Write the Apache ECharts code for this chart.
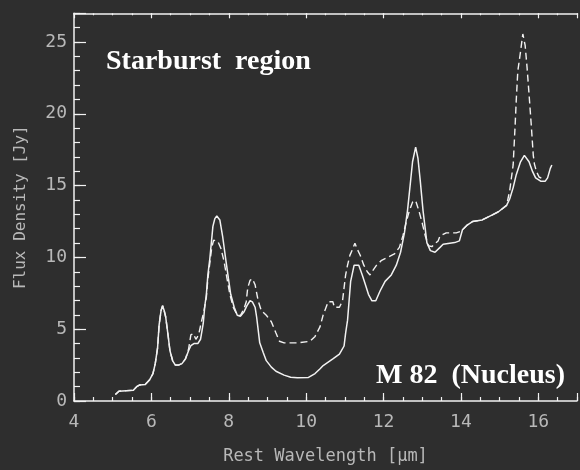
<!DOCTYPE html>
<html>
<head>
<meta charset="utf-8">
<script src="https://cdn.jsdelivr.net/npm/echarts@6/dist/echarts.min.js"></script>
<style>
  html, body { margin: 0; padding: 0; background: #2e2e2e; }
  #chart { width: 580px; height: 470px; }
</style>
</head>
<body>
<div id="chart"></div>
<script>
// Mid-infrared spectrum of M 82: solid and dashed traces
const solidWave = [5.07, 5.16, 5.35, 5.53, 5.62, 5.7, 5.84, 5.95, 6.04, 6.1, 6.16, 6.2, 6.25, 6.29, 6.33, 6.37, 6.43, 6.48, 6.55, 6.62, 6.7, 6.79, 6.88, 6.96, 7.02, 7.1, 7.2, 7.27, 7.34, 7.38, 7.42, 7.46, 7.51, 7.55, 7.59, 7.64, 7.69, 7.73, 7.77, 7.84, 7.92, 7.99, 8.05, 8.14, 8.22, 8.3, 8.39, 8.47, 8.55, 8.61, 8.68, 8.72, 8.76, 8.8, 8.89, 8.97, 9.1, 9.22, 9.43, 9.6, 9.77, 10.06, 10.23, 10.36, 10.44, 10.69, 10.86, 10.98, 11.02, 11.07, 11.11, 11.15, 11.24, 11.36, 11.45, 11.53, 11.61, 11.7, 11.8, 11.91, 12.04, 12.2, 12.33, 12.44, 12.54, 12.62, 12.69, 12.75, 12.83, 12.89, 12.95, 13.02, 13.08, 13.12, 13.21, 13.33, 13.46, 13.54, 13.84, 13.96, 14.04, 14.17, 14.3, 14.55, 14.8, 14.97, 15.18, 15.26, 15.35, 15.43, 15.54, 15.64, 15.76, 15.85, 15.93, 16.06, 16.18, 16.24, 16.31, 16.35];
const solidFlux = [0.45, 0.68, 0.72, 0.74, 1.0, 1.12, 1.15, 1.46, 1.9, 2.6, 3.7, 5.3, 6.3, 6.64, 6.3, 5.85, 4.6, 3.5, 2.8, 2.5, 2.5, 2.6, 2.93, 3.5, 3.85, 4.0, 4.0, 4.3, 5.4, 6.6, 7.4, 8.78, 9.9, 11.03, 12.16, 12.7, 12.88, 12.75, 12.6, 11.49, 9.9, 8.55, 7.43, 6.53, 5.97, 5.9, 6.19, 6.64, 6.98, 6.9, 6.53, 5.85, 4.95, 4.05, 3.38, 2.81, 2.36, 2.07, 1.8, 1.66, 1.62, 1.64, 1.91, 2.25, 2.47, 2.93, 3.26, 3.83, 4.73, 5.63, 6.98, 8.33, 9.46, 9.46, 8.78, 8.11, 7.43, 6.98, 6.98, 7.66, 8.33, 8.78, 9.46, 10.36, 11.71, 13.28, 15.09, 16.66, 17.68, 16.89, 15.31, 13.28, 11.93, 11.03, 10.47, 10.36, 10.7, 10.92, 11.03, 11.15, 11.93, 12.27, 12.5, 12.61, 12.95, 13.18, 13.62, 14.07, 14.86, 15.76, 16.66, 17.11, 16.66, 15.99, 15.54, 15.31, 15.31, 15.54, 16.2, 16.44];

const dashedWave = [5.07, 5.16, 5.35, 5.53, 5.62, 5.7, 5.84, 5.95, 6.04, 6.1, 6.16, 6.2, 6.25, 6.29, 6.33, 6.37, 6.43, 6.48, 6.55, 6.62, 6.7, 6.79, 6.88, 6.96, 7.02, 7.08, 7.15, 7.22, 7.3, 7.36, 7.42, 7.46, 7.51, 7.56, 7.61, 7.66, 7.72, 7.8, 7.88, 7.95, 8.03, 8.12, 8.22, 8.3, 8.39, 8.45, 8.49, 8.55, 8.61, 8.68, 8.76, 8.84, 8.97, 9.1, 9.22, 9.31, 9.43, 9.8, 10.1, 10.23, 10.36, 10.44, 10.57, 10.69, 10.73, 10.86, 10.94, 10.98, 11.02, 11.07, 11.13, 11.2, 11.26, 11.32, 11.4, 11.49, 11.58, 11.65, 11.7, 11.82, 11.95, 12.12, 12.28, 12.41, 12.5, 12.58, 12.66, 12.75, 12.83, 12.91, 13.0, 13.08, 13.16, 13.25, 13.41, 13.46, 13.62, 13.88, 14.0, 14.04, 14.17, 14.3, 14.55, 14.8, 14.97, 15.18, 15.26, 15.35, 15.4, 15.43, 15.47, 15.54, 15.6, 15.66, 15.71, 15.76, 15.82, 15.87, 15.9, 15.95, 16.02, 16.1];
const dashedFlux = [0.45, 0.68, 0.72, 0.74, 1.0, 1.12, 1.15, 1.46, 1.9, 2.6, 3.7, 5.3, 6.3, 6.64, 6.3, 5.85, 4.6, 3.5, 2.8, 2.5, 2.5, 2.6, 2.93, 3.6, 4.6, 4.7, 4.3, 4.6, 5.6, 6.3, 7.2, 8.5, 9.6, 10.7, 11.2, 11.3, 11.1, 10.6, 9.7, 8.6, 7.4, 6.5, 5.97, 5.95, 6.4, 6.9, 7.88, 8.4, 8.51, 8.1, 6.98, 6.3, 5.97, 5.52, 4.73, 4.16, 4.05, 4.05, 4.16, 4.5, 5.18, 6.0, 6.91, 6.91, 6.53, 6.53, 6.98, 7.88, 8.78, 9.46, 10.14, 10.58, 10.99, 10.58, 10.13, 9.46, 9.0, 8.78, 9.0, 9.46, 9.8, 10.02, 10.24, 10.7, 11.49, 12.39, 13.18, 13.85, 13.96, 13.28, 12.39, 11.49, 10.81, 10.75, 11.15, 11.49, 11.71, 11.71, 11.82, 11.93, 12.27, 12.5, 12.61, 12.95, 13.18, 13.62, 14.64, 16.44, 19.14, 20.95, 22.97, 24.32, 25.56, 24.77, 23.2, 21.39, 19.14, 17.11, 16.5, 15.99, 15.6, 15.5];

// Axis ranges and tick steps
const xRange = [4, 17];
const xMajorStep = 2;
const xMinorStep = 0.5;
const yRange = [0, 27];
const yMajorStep = 5;
const yMinorStep = 1;

const pairs = (xs, ys) => xs.map((x, i) => [x, ys[i]]);

const ink = '#f2f2f2';
const labelInk = '#b8b8b8';
const mono = '"DejaVu Sans Mono", "Liberation Mono", monospace';
const serif = '"Liberation Serif", "DejaVu Serif", serif';

function xAxisDef(position, step, tickLen, withLabels, withLine) {
  return {
    type: 'value', position: position,
    min: xRange[0], max: xRange[1], interval: step,
    axisLine: { show: withLine, lineStyle: { color: ink, width: 1.5 } },
    axisTick: { show: true, inside: true, length: tickLen, lineStyle: { color: ink, width: 1.2 } },
    axisLabel: {
      show: withLabels, color: labelInk, fontFamily: mono, fontSize: 18, margin: 12,
      formatter: v => (v % xMajorStep === 0 && v <= 16) ? String(v) : ''
    },
    splitLine: { show: false },
    name: withLabels ? 'Rest Wavelength [\u03bcm]' : '',
    nameLocation: 'middle', nameGap: 47,
    nameTextStyle: { color: labelInk, fontFamily: mono, fontSize: 17 }
  };
}

function yAxisDef(step, tickLen, withLabels, withLine) {
  return {
    type: 'value', position: 'left',
    min: yRange[0], max: yRange[1], interval: step,
    axisLine: { show: withLine, lineStyle: { color: ink, width: 1.5 } },
    axisTick: { show: true, inside: true, length: tickLen, lineStyle: { color: ink, width: 1.2 } },
    axisLabel: {
      show: withLabels, color: labelInk, fontFamily: mono, fontSize: 18, margin: 7,
      formatter: v => (v % yMajorStep === 0) ? String(v) : ''
    },
    splitLine: { show: false },
    name: withLabels ? 'Flux Density [Jy]' : '',
    nameLocation: 'middle', nameGap: 45,
    nameTextStyle: { color: labelInk, fontFamily: mono, fontSize: 16 }
  };
}

const chart = echarts.init(document.getElementById('chart'), null, { renderer: 'canvas' });
chart.setOption({
  backgroundColor: '#2e2e2e',
  animation: false,
  grid: { left: 74, top: 13.3, width: 516.75, height: 400, containLabel: false },
  xAxis: [
    xAxisDef('bottom', xMajorStep, 8, true, true),
    xAxisDef('bottom', xMinorStep, 4, false, false),
    xAxisDef('top', xMajorStep, 5, false, true),
    xAxisDef('top', xMinorStep, 2, false, false)
  ],
  yAxis: [
    yAxisDef(yMajorStep, 12, true, true),
    yAxisDef(yMinorStep, 6, false, false)
  ],
  series: [
    {
      type: 'line', xAxisIndex: 0, yAxisIndex: 0,
      data: pairs(dashedWave, dashedFlux),
      showSymbol: false, smooth: false,
      lineStyle: { color: ink, width: 1.4, type: [7, 4] }
    },
    {
      type: 'line', xAxisIndex: 0, yAxisIndex: 0,
      data: pairs(solidWave, solidFlux),
      showSymbol: false, smooth: false,
      lineStyle: { color: ink, width: 1.5 }
    }
  ],
  graphic: [
    {
      type: 'text', left: 106, top: 48,
      style: { text: 'Starburst  region', font: 'bold 28px ' + serif, fill: '#ffffff' }
    },
    {
      type: 'text', right: 15, top: 362,
      style: { text: 'M 82  (Nucleus)', font: 'bold 28px ' + serif, fill: '#ffffff' }
    }
  ]
});
</script>
</body>
</html>
